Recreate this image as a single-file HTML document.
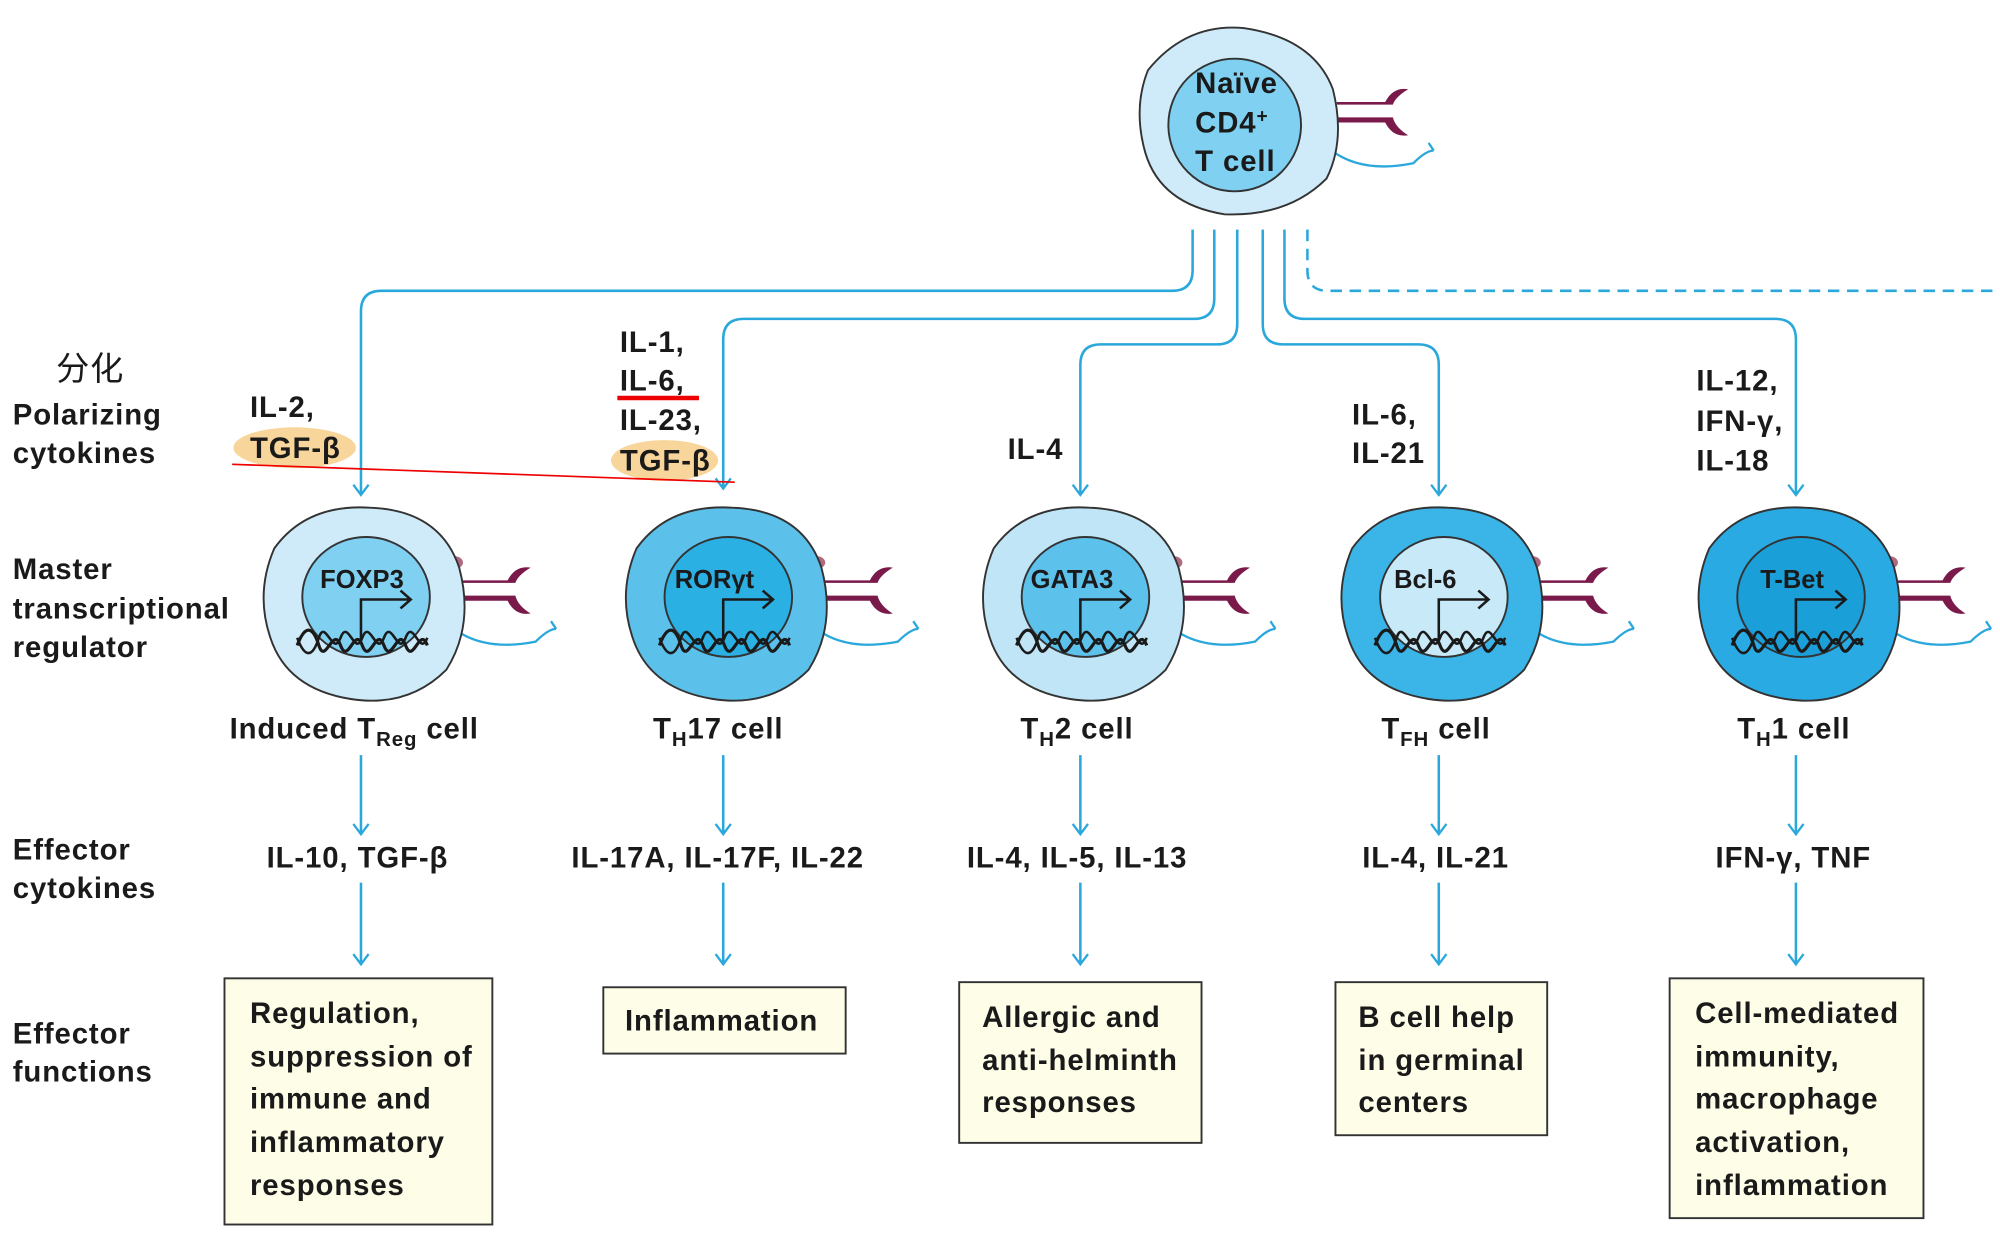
<!DOCTYPE html>
<html><head><meta charset="utf-8"><style>
html,body{margin:0;padding:0;background:#fff}
svg{display:block}
text{font-family:"Liberation Sans","Noto Sans CJK SC",sans-serif;font-weight:bold;fill:#1a1a1a;font-size:23px;letter-spacing:0.7px}
</style></head><body>
<svg width="2000" height="1236" viewBox="0 0 1568 969" xmlns="http://www.w3.org/2000/svg">
<defs>
<marker id="ar" markerWidth="14" markerHeight="14" refX="11" refY="7" orient="auto" markerUnits="userSpaceOnUse">
<path d="M3,1 L11,7 L3,13" fill="none" stroke="#2aa8dc" stroke-width="1.8"/></marker>
<g id="rec">
<path d="M0,-8 H38 Q44,-20 56,-18 Q46,-12 44,-6 H0 Z M0,4 H44 Q46,12 56,18 Q44,20 38,8 H0 Z" fill="#7a1a4a"/>
<path d="M-4,30 Q20,48 60,40 Q70,30 76,30 M72,24 L76,30" fill="none" stroke="#2aa8dc" stroke-width="1.8"/>
</g>
<g id="dna" fill="none" stroke="#1a1a1a" stroke-width="2.5">
<path d="M-50,20 C-44,4 -38,4 -33,20 S-22,4 -16,20 S-5,4 1,20 S12,4 18,20 S29,4 35,20 S46,4 52,20"/>
<path d="M-50,14 C-44,30 -38,30 -33,14 S-22,30 -16,14 S-5,30 1,14 S12,30 18,14 S29,30 35,14 S46,30 52,14" stroke-width="2"/>
</g>
</defs>
<g fill="none" stroke="#2aa8dc" stroke-width="2">
<path d="M935,180 V212 Q935,228 919,228 H299 Q283,228 283,244 V388" marker-end="url(#ar)"/>
<path d="M952,180 V234 Q952,250 936,250 H583 Q567,250 567,266 V383" marker-end="url(#ar)"/>
<path d="M970,180 V254 Q970,270 954,270 H863 Q847,270 847,286 V388" marker-end="url(#ar)"/>
<path d="M990,180 V254 Q990,270 1006,270 H1112 Q1128,270 1128,286 V388" marker-end="url(#ar)"/>
<path d="M1007,180 V234 Q1007,250 1023,250 H1392 Q1408,250 1408,266 V388" marker-end="url(#ar)"/>
<path d="M1025,180 V212 Q1025,228 1041,228 H1568" stroke-dasharray="9,6"/>
<path d="M283,592 V654" marker-end="url(#ar)"/><path d="M567,592 V654" marker-end="url(#ar)"/><path d="M847,592 V654" marker-end="url(#ar)"/><path d="M1128,592 V654" marker-end="url(#ar)"/><path d="M1408,592 V654" marker-end="url(#ar)"/>
<path d="M283,692 V756" marker-end="url(#ar)"/><path d="M567,692 V756" marker-end="url(#ar)"/><path d="M847,692 V756" marker-end="url(#ar)"/><path d="M1128,692 V756" marker-end="url(#ar)"/><path d="M1408,692 V756" marker-end="url(#ar)"/>
</g>
<!-- naive -->
<use href="#rec" x="1048" y="88"/>
<path d="M900,55 Q930,18 975,22 Q1030,30 1045,70 Q1055,110 1040,140 Q1010,170 960,168 Q910,160 898,120 Q888,85 900,55Z" fill="#cfeaf8" stroke="#333" stroke-width="1.5"/>
<ellipse cx="968" cy="98" rx="52" ry="52" fill="#7fd0f1" stroke="#333" stroke-width="1.5"/>
<text x="937" y="73">Naïve</text><text x="937" y="104">CD4<tspan font-size="15" dy="-8">+</tspan></text><text x="937" y="134">T cell</text>
<!-- cells -->
<g>
<use href="#rec" x="360" y="463"/><ellipse cx="356" cy="441" rx="7" ry="5" fill="#b06a80"/>
<path d="M215,430 Q240,395 290,398 Q345,400 360,445 Q372,490 350,525 Q320,555 275,548 Q225,540 212,500 Q200,465 215,430Z" fill="#cfeaf8" stroke="#333" stroke-width="1.5"/>
<ellipse cx="287" cy="468" rx="50" ry="47" fill="#7fd0f1" stroke="#333" stroke-width="1.5"/>
<text x="251" y="461" style="font-size:20px;letter-spacing:0">FOXP3</text>
<path d="M283,502 V470 H322 M314,463 L322,470 L314,477" fill="none" stroke="#1a1a1a" stroke-width="2"/>
<use href="#dna" x="283" y="486"/>
</g>
<g>
<use href="#rec" x="644" y="463"/><ellipse cx="640" cy="441" rx="7" ry="5" fill="#b06a80"/>
<path d="M499,430 Q524,395 574,398 Q629,400 644,445 Q656,490 634,525 Q604,555 559,548 Q509,540 496,500 Q484,465 499,430Z" fill="#5bc0ea" stroke="#333" stroke-width="1.5"/>
<ellipse cx="571" cy="468" rx="50" ry="47" fill="#2bb0e4" stroke="#333" stroke-width="1.5"/>
<text x="529" y="461" style="font-size:20px;letter-spacing:0">RORγt</text>
<path d="M567,502 V470 H606 M598,463 L606,470 L598,477" fill="none" stroke="#1a1a1a" stroke-width="2"/>
<use href="#dna" x="567" y="486"/>
</g>
<g>
<use href="#rec" x="924" y="463"/><ellipse cx="920" cy="441" rx="7" ry="5" fill="#b06a80"/>
<path d="M779,430 Q804,395 854,398 Q909,400 924,445 Q936,490 914,525 Q884,555 839,548 Q789,540 776,500 Q764,465 779,430Z" fill="#bfe5f7" stroke="#333" stroke-width="1.5"/>
<ellipse cx="851" cy="468" rx="50" ry="47" fill="#5cc1eb" stroke="#333" stroke-width="1.5"/>
<text x="808" y="461" style="font-size:20px;letter-spacing:0">GATA3</text>
<path d="M847,502 V470 H886 M878,463 L886,470 L878,477" fill="none" stroke="#1a1a1a" stroke-width="2"/>
<use href="#dna" x="847" y="486"/>
</g>
<g>
<use href="#rec" x="1205" y="463"/><ellipse cx="1201" cy="441" rx="7" ry="5" fill="#b06a80"/>
<path d="M1060,430 Q1085,395 1135,398 Q1190,400 1205,445 Q1217,490 1195,525 Q1165,555 1120,548 Q1070,540 1057,500 Q1045,465 1060,430Z" fill="#3bb5e7" stroke="#333" stroke-width="1.5"/>
<ellipse cx="1132" cy="468" rx="50" ry="47" fill="#c8e9f8" stroke="#333" stroke-width="1.5"/>
<text x="1093" y="461" style="font-size:20px;letter-spacing:0">Bcl-6</text>
<path d="M1128,502 V470 H1167 M1159,463 L1167,470 L1159,477" fill="none" stroke="#1a1a1a" stroke-width="2"/>
<use href="#dna" x="1128" y="486"/>
</g>
<g>
<use href="#rec" x="1485" y="463"/><ellipse cx="1481" cy="441" rx="7" ry="5" fill="#b06a80"/>
<path d="M1340,430 Q1365,395 1415,398 Q1470,400 1485,445 Q1497,490 1475,525 Q1445,555 1400,548 Q1350,540 1337,500 Q1325,465 1340,430Z" fill="#2aaae2" stroke="#333" stroke-width="1.5"/>
<ellipse cx="1412" cy="468" rx="50" ry="47" fill="#1a9fd9" stroke="#333" stroke-width="1.5"/>
<text x="1380" y="461" style="font-size:20px;letter-spacing:0">T-Bet</text>
<path d="M1408,502 V470 H1447 M1439,463 L1447,470 L1439,477" fill="none" stroke="#1a1a1a" stroke-width="2"/>
<use href="#dna" x="1408" y="486"/>
</g>
<!-- left labels -->
<text x="44" y="298" style="font-weight:normal;font-size:26px">分化</text>
<text x="10" y="333">Polarizing</text><text x="10" y="363">cytokines</text>
<text x="10" y="454">Master</text><text x="10" y="485">transcriptional</text><text x="10" y="515">regulator</text>
<text x="10" y="674">Effector</text><text x="10" y="704">cytokines</text>
<text x="10" y="818">Effector</text><text x="10" y="848">functions</text>
<!-- polarizing -->
<ellipse cx="231" cy="351" rx="48" ry="16" fill="#f8d59a"/>
<ellipse cx="521" cy="361" rx="42" ry="16" fill="#f8d59a"/>
<text x="196" y="327">IL-2,</text><text x="196" y="359">TGF-β</text>
<text x="486" y="276">IL-1,</text><text x="486" y="306">IL-6,</text><text x="486" y="337">IL-23,</text><text x="486" y="369">TGF-β</text>
<line x1="484" y1="312" x2="548" y2="312" stroke="#e00" stroke-width="3.5"/>
<line x1="182" y1="364" x2="576" y2="378" stroke="#e00" stroke-width="1.3"/>
<text x="790" y="360">IL-4</text>
<text x="1060" y="333">IL-6,</text><text x="1060" y="363">IL-21</text>
<text x="1330" y="306">IL-12,</text><text x="1330" y="338">IFN-γ,</text><text x="1330" y="369">IL-18</text>
<!-- names -->
<text x="180" y="579">Induced T<tspan font-size="16" dy="6">Reg</tspan><tspan dy="-6"> cell</tspan></text>
<text x="512" y="579">T<tspan font-size="16" dy="6">H</tspan><tspan dy="-6">17 cell</tspan></text>
<text x="800" y="579">T<tspan font-size="16" dy="6">H</tspan><tspan dy="-6">2 cell</tspan></text>
<text x="1083" y="579">T<tspan font-size="16" dy="6">FH</tspan><tspan dy="-6"> cell</tspan></text>
<text x="1362" y="579">T<tspan font-size="16" dy="6">H</tspan><tspan dy="-6">1 cell</tspan></text>
<!-- effector cytokines -->
<text x="209" y="680">IL-10, TGF-β</text>
<text x="448" y="680">IL-17A, IL-17F, IL-22</text>
<text x="758" y="680">IL-4, IL-5, IL-13</text>
<text x="1068" y="680">IL-4, IL-21</text>
<text x="1345" y="680">IFN-γ, TNF</text>
<!-- boxes -->
<g fill="#fdfde8" stroke="#333" stroke-width="1.5">
<rect x="176" y="767" width="210" height="193"/>
<rect x="473" y="774" width="190" height="52"/>
<rect x="752" y="770" width="190" height="126"/>
<rect x="1047" y="770" width="166" height="120"/>
<rect x="1309" y="767" width="199" height="188"/>
</g>
<text x="196" y="802">Regulation,</text><text x="196" y="836">suppression of</text><text x="196" y="869">immune and</text><text x="196" y="903">inflammatory</text><text x="196" y="937">responses</text>
<text x="490" y="808">Inflammation</text>
<text x="770" y="805">Allergic and</text><text x="770" y="839">anti-helminth</text><text x="770" y="872">responses</text>
<text x="1065" y="805">B cell help</text><text x="1065" y="839">in germinal</text><text x="1065" y="872">centers</text>
<text x="1329" y="802">Cell-mediated</text><text x="1329" y="836">immunity,</text><text x="1329" y="869">macrophage</text><text x="1329" y="903">activation,</text><text x="1329" y="937">inflammation</text>
</svg>
</body></html>
